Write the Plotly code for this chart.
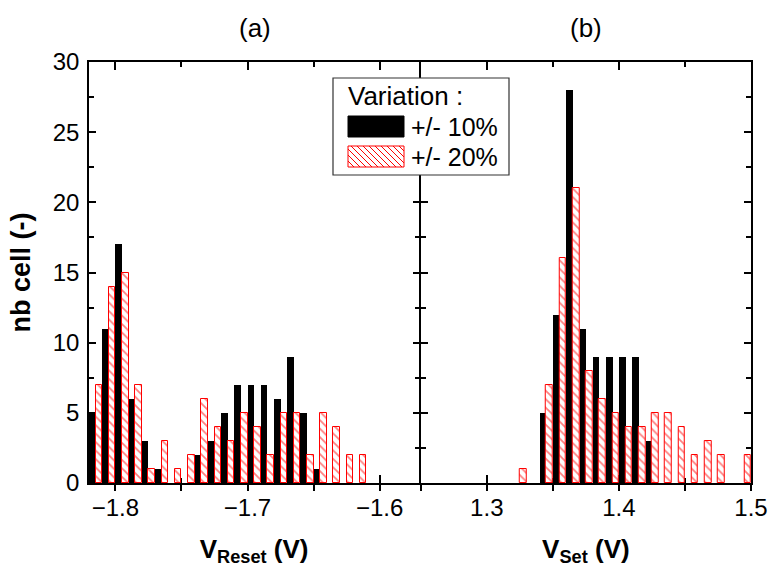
import plotly.graph_objects as go

# ---------------- data ----------------
# (a) V_Reset histogram, bin centres (bin width 0.01 V)
reset_bins = [-1.815, -1.805, -1.795, -1.785, -1.775, -1.765, -1.755, -1.745,
              -1.735, -1.725, -1.715, -1.705, -1.695, -1.685, -1.675, -1.665,
              -1.655, -1.645, -1.635, -1.625, -1.615]
reset_10 = [5, 11, 17, 6, 3, 1, 0, 0, 2, 3, 5, 7, 7, 7, 6, 9, 5, 1, 0, 0, 0]
reset_20 = [7, 14, 15, 7, 1, 3, 1, 2, 6, 4, 3, 5, 4, 2, 5, 5, 2, 5, 4, 2, 2]

# (b) V_Set histogram, bin centres (bin width 0.01 V)
set_bins = [1.325, 1.335, 1.345, 1.355, 1.365, 1.375, 1.385, 1.395, 1.405,
            1.415, 1.425, 1.435, 1.445, 1.455, 1.465, 1.475, 1.485, 1.495]
set_10 = [0, 0, 5, 12, 28, 11, 9, 9, 9, 9, 3, 0, 0, 0, 0, 0, 0, 0]
set_20 = [1, 0, 7, 16, 21, 8, 6, 5, 4, 4, 5, 5, 4, 2, 3, 2, 0, 2]

series_names = ["+/- 10%", "+/- 20%"]
legend_title = "Variation :"

reset_major = [-1.8, -1.7, -1.6]
reset_minor = [-1.75, -1.65]
set_major = [1.3, 1.4, 1.5]
set_minor = [1.25, 1.35, 1.45]
y_ticks = [0, 5, 10, 15, 20, 25, 30]
y_minor = [2.5, 7.5, 12.5, 17.5, 22.5, 27.5]

# ---------------- styling ----------------
FONT = "Arial, 'Liberation Sans', sans-serif"
RED = "#ff0000"
W, H = 769, 567
ML, MR, MT, MB = 89, 18, 62, 84
PW, PH = W - ML - MR, H - MT - MB
LW = 1.5
HALF = (LW / 2) / PW  # so the two divider lines coincide


def px(x):
    return (x - ML) / PW


def py(y):
    return (H - MB - y) / PH


def red_marker(vals):
    return dict(color="white",
                line=dict(color=RED, width=[1 if v else 0 for v in vals]),
                pattern=dict(shape="\\", fgcolor=RED, bgcolor="white",
                             size=6, solidity=0.3))


black_marker = dict(color="black", line=dict(width=0))

fig = go.Figure()
fig.add_trace(go.Bar(x=reset_bins, y=reset_10, name=series_names[0],
                     marker=black_marker, xaxis="x", yaxis="y", showlegend=False))
fig.add_trace(go.Bar(x=reset_bins, y=reset_20, name=series_names[1],
                     marker=red_marker(reset_20), xaxis="x", yaxis="y",
                     showlegend=False))
fig.add_trace(go.Bar(x=set_bins, y=set_10, name=series_names[0],
                     marker=black_marker, xaxis="x2", yaxis="y2", showlegend=False))
fig.add_trace(go.Bar(x=set_bins, y=set_20, name=series_names[1],
                     marker=red_marker(set_20), xaxis="x2", yaxis="y2",
                     showlegend=False))
# empty helper traces so the overlay axes (outer tick marks) are drawn
fig.add_trace(go.Scatter(x=[], y=[], xaxis="x3", yaxis="y", showlegend=False))
fig.add_trace(go.Scatter(x=[], y=[], xaxis="x4", yaxis="y2", showlegend=False))

axis_common = dict(showgrid=False, zeroline=False, linecolor="black",
                   tickcolor="black", tickwidth=1.5, layer="below traces",
                   automargin=False,
                   tickfont=dict(family=FONT, size=24, color="black"))
minor_in = dict(ticks="inside", ticklen=5, tickcolor="black", tickwidth=1.5)

fig.update_layout(
    width=W, height=H,
    margin=dict(l=ML, r=MR, t=MT, b=MB),
    paper_bgcolor="white", plot_bgcolor="white",
    barmode="group", bargap=0, bargroupgap=0,
    font=dict(family=FONT, size=24, color="black"),
    showlegend=False,
    xaxis=dict(domain=[0, 0.5 - HALF], anchor="y", range=[-1.82, -1.57],
               tickvals=reset_major, ticks="inside", ticklen=8,
               showline=True, linewidth=LW, mirror="ticks",
               ticklabelstandoff=2,
               minor=dict(tickvals=reset_minor, **minor_in),
               title=dict(text="<b>V<sub>Reset</sub> (V)</b>", standoff=21,
                          font=dict(family=FONT, size=26)),
               **axis_common),
    xaxis3=dict(overlaying="x", anchor="y", range=[-1.82, -1.57],
                tickvals=reset_major + reset_minor, ticks="outside", ticklen=7,
                showticklabels=False, showline=False,
                **axis_common),
    xaxis2=dict(domain=[0.5 + HALF, 1], anchor="y2", range=[1.25, 1.5],
                tickvals=set_major, ticks="inside", ticklen=8,
                showline=True, linewidth=LW, mirror="ticks",
                ticklabelstandoff=2,
                minor=dict(tickvals=set_minor, **minor_in),
                title=dict(text="<b>V<sub>Set</sub> (V)</b>", standoff=21,
                           font=dict(family=FONT, size=26)),
                **axis_common),
    xaxis4=dict(overlaying="x2", anchor="y2", range=[1.25, 1.5],
                tickvals=set_major + set_minor, ticks="outside", ticklen=7,
                showticklabels=False, showline=False,
                **axis_common),
    yaxis=dict(domain=[0, 1], anchor="x", range=[0, 30], tickvals=y_ticks,
               ticks="inside", ticklen=7, showline=True, linewidth=LW,
               mirror="ticks", ticklabelstandoff=3,
               minor=dict(tickvals=y_minor, **minor_in),
               title=dict(text="<b>nb cell (-)</b>", standoff=14,
                          font=dict(family=FONT, size=27)),
               **axis_common),
    yaxis2=dict(domain=[0, 1], anchor="x2", range=[0, 30], matches="y",
                tickvals=y_ticks, ticks="inside", ticklen=7, showline=True,
                linewidth=LW, mirror="ticks", showticklabels=False,
                minor=dict(tickvals=y_minor, **minor_in),
                **axis_common),
)

# panel labels
fig.add_annotation(text="(a)", x=0.25, y=py(28), xref="paper", yref="paper",
                   xanchor="center", yanchor="middle",
                   showarrow=False, font=dict(family=FONT, size=26))
fig.add_annotation(text="(b)", x=0.75, y=py(28), xref="paper", yref="paper",
                   xanchor="center", yanchor="middle",
                   showarrow=False, font=dict(family=FONT, size=26))

# ---------------- legend box (drawn manually) ----------------
LB_L, LB_T, LB_R, LB_B = 333, 78, 509, 175
fig.add_shape(type="rect", xref="paper", yref="paper",
              x0=px(LB_L), x1=px(LB_R), y0=py(LB_B), y1=py(LB_T),
              line=dict(color="#333333", width=1.2), fillcolor="white",
              layer="above")
fig.add_annotation(text=legend_title, x=px(346), y=py(96), xref="paper",
                   yref="paper", xanchor="left", yanchor="middle",
                   showarrow=False, font=dict(family=FONT, size=26))
SW_L, SW_R = 348, 404
sw1 = (116, 137)
sw2 = (146, 167)
fig.add_shape(type="rect", xref="paper", yref="paper",
              x0=px(SW_L), x1=px(SW_R), y0=py(sw1[1]), y1=py(sw1[0]),
              line=dict(color="black", width=1), fillcolor="black", layer="above")
fig.add_shape(type="rect", xref="paper", yref="paper",
              x0=px(SW_L), x1=px(SW_R), y0=py(sw2[1]), y1=py(sw2[0]),
              line=dict(color=RED, width=1), fillcolor="white", layer="above")
# hatch lines for the red swatch
top, bot = sw2
path = ""
c = SW_L - (bot - top)
while c < SW_R:
    ys0 = max(top, top + SW_L - c)
    ys1 = min(bot, top + SW_R - c)
    if ys1 > ys0:
        xa, xb = c + ys0 - top, c + ys1 - top
        path += f"M{px(xa)},{py(ys0)} L{px(xb)},{py(ys1)} "
    c += 6
fig.add_shape(type="path", xref="paper", yref="paper", path=path,
              line=dict(color=RED, width=1), layer="above")
fig.add_annotation(text=series_names[0], x=px(409), y=py(127), xref="paper",
                   yref="paper", xanchor="left", yanchor="middle",
                   showarrow=False, font=dict(family=FONT, size=25))
fig.add_annotation(text=series_names[1], x=px(409), y=py(157), xref="paper",
                   yref="paper", xanchor="left", yanchor="middle",
                   showarrow=False, font=dict(family=FONT, size=25))

fig.write_html("out.html",
               config={"displayModeBar": False},
               post_script="document.body.style.margin='0';"
                           "document.body.style.overflow='hidden';")
